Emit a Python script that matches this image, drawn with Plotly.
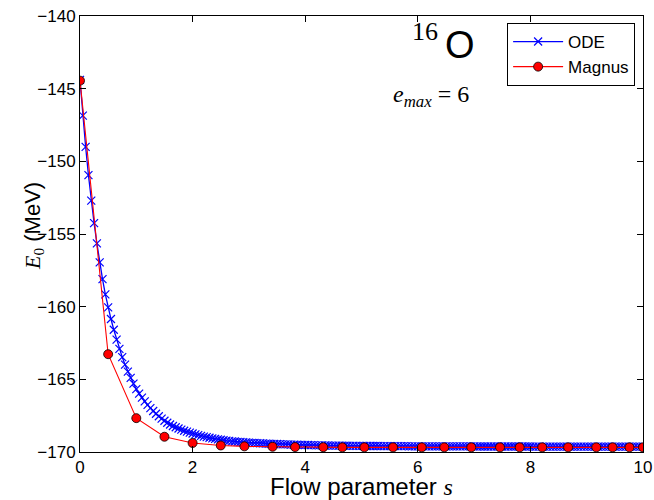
import plotly.graph_objects as go

# ODE flow (blue x markers), sampled every 0.05 in s
ode_s = [
    0.00, 0.05, 0.10, 0.15, 0.20, 0.25, 0.30, 0.35, 0.40, 0.45,
    0.50, 0.55, 0.60, 0.65, 0.70, 0.75, 0.80, 0.85, 0.90, 0.95,
    1.00, 1.05, 1.10, 1.15, 1.20, 1.25, 1.30, 1.35, 1.40, 1.45,
    1.50, 1.55, 1.60, 1.65, 1.70, 1.75, 1.80, 1.85, 1.90, 1.95,
    2.00, 2.05, 2.10, 2.15, 2.20, 2.25, 2.30, 2.35, 2.40, 2.45,
    2.50, 2.55, 2.60, 2.65, 2.70, 2.75, 2.80, 2.85, 2.90, 2.95,
    3.00, 3.05, 3.10, 3.15, 3.20, 3.25, 3.30, 3.35, 3.40, 3.45,
    3.50, 3.55, 3.60, 3.65, 3.70, 3.75, 3.80, 3.85, 3.90, 3.95,
    4.00, 4.05, 4.10, 4.15, 4.20, 4.25, 4.30, 4.35, 4.40, 4.45,
    4.50, 4.55, 4.60, 4.65, 4.70, 4.75, 4.80, 4.85, 4.90, 4.95,
    5.00, 5.05, 5.10, 5.15, 5.20, 5.25, 5.30, 5.35, 5.40, 5.45,
    5.50, 5.55, 5.60, 5.65, 5.70, 5.75, 5.80, 5.85, 5.90, 5.95,
    6.00, 6.05, 6.10, 6.15, 6.20, 6.25, 6.30, 6.35, 6.40, 6.45,
    6.50, 6.55, 6.60, 6.65, 6.70, 6.75, 6.80, 6.85, 6.90, 6.95,
    7.00, 7.05, 7.10, 7.15, 7.20, 7.25, 7.30, 7.35, 7.40, 7.45,
    7.50, 7.55, 7.60, 7.65, 7.70, 7.75, 7.80, 7.85, 7.90, 7.95,
    8.00, 8.05, 8.10, 8.15, 8.20, 8.25, 8.30, 8.35, 8.40, 8.45,
    8.50, 8.55, 8.60, 8.65, 8.70, 8.75, 8.80, 8.85, 8.90, 8.95,
    9.00, 9.05, 9.10, 9.15, 9.20, 9.25, 9.30, 9.35, 9.40, 9.45,
    9.50, 9.55, 9.60, 9.65, 9.70, 9.75, 9.80, 9.85, 9.90, 9.95,
    10.00,
]
ode_E = [
    -144.40, -146.85, -149.00, -150.95, -152.70, -154.25, -155.65, -156.95, -158.10, -159.15,
    -160.05, -160.85, -161.59, -162.27, -162.90, -163.47, -163.99, -164.47, -164.90, -165.30,
    -165.67, -165.98, -166.26, -166.52, -166.76, -166.98, -167.18, -167.37, -167.54, -167.70,
    -167.85, -167.99, -168.11, -168.21, -168.30, -168.38, -168.46, -168.54, -168.60, -168.67,
    -168.73, -168.79, -168.84, -168.89, -168.94, -168.98, -169.02, -169.06, -169.10, -169.13,
    -169.16, -169.19, -169.22, -169.24, -169.27, -169.28, -169.30, -169.31, -169.33, -169.34,
    -169.35, -169.37, -169.38, -169.39, -169.40, -169.41, -169.42, -169.43, -169.44, -169.45,
    -169.45, -169.46, -169.47, -169.48, -169.48, -169.49, -169.50, -169.50, -169.51, -169.51,
    -169.52, -169.52, -169.53, -169.53, -169.54, -169.54, -169.54, -169.55, -169.55, -169.56,
    -169.56, -169.56, -169.56, -169.57, -169.57, -169.57, -169.58, -169.58, -169.58, -169.58,
    -169.58, -169.59, -169.59, -169.59, -169.59, -169.59, -169.59, -169.60, -169.60, -169.60,
    -169.60, -169.60, -169.60, -169.60, -169.60, -169.60, -169.60, -169.61, -169.61, -169.61,
    -169.61, -169.61, -169.61, -169.61, -169.61, -169.61, -169.61, -169.61, -169.61, -169.61,
    -169.61, -169.61, -169.61, -169.61, -169.61, -169.61, -169.61, -169.61, -169.61, -169.61,
    -169.61, -169.62, -169.62, -169.62, -169.62, -169.62, -169.62, -169.62, -169.62, -169.62,
    -169.62, -169.62, -169.62, -169.62, -169.62, -169.62, -169.62, -169.62, -169.62, -169.62,
    -169.62, -169.63, -169.63, -169.63, -169.63, -169.63, -169.63, -169.63, -169.63, -169.63,
    -169.63, -169.63, -169.63, -169.63, -169.63, -169.63, -169.63, -169.63, -169.63, -169.63,
    -169.63, -169.63, -169.63, -169.63, -169.63, -169.63, -169.63, -169.63, -169.63, -169.63,
    -169.63, -169.63, -169.63, -169.63, -169.63, -169.63, -169.63, -169.63, -169.63, -169.63,
    -169.63,
]

# Magnus (red circles), adaptive steps
magnus_s = [0.0, 0.5, 1.0, 1.5, 2.0, 2.5, 2.92, 3.42, 3.82, 4.32, 4.66, 5.05,
            5.56, 6.07, 6.47, 6.95, 7.46, 7.81, 8.21, 8.67, 9.17, 9.46, 9.76, 10.0]
magnus_E = [-144.45, -163.27, -167.67, -168.95, -169.38, -169.55, -169.61, -169.64,
            -169.66, -169.67, -169.68, -169.68, -169.68, -169.68, -169.68, -169.68,
            -169.68, -169.68, -169.68, -169.68, -169.68, -169.68, -169.68, -169.68]

x_ticks = [0, 2, 4, 6, 8, 10]
y_ticks = [-170, -165, -160, -155, -150, -145, -140]

SANS = "Liberation Sans, Arial, sans-serif"
SERIF = "Liberation Serif, Times New Roman, serif"

fig = go.Figure()
fig.add_trace(go.Scatter(
    x=ode_s, y=ode_E, mode="lines+markers", name="ODE",
    line=dict(color="#0000ff", width=1.3),
    marker=dict(symbol="x-thin", size=8, color="#0000ff",
                line=dict(width=1.2, color="#0000ff")),
))
fig.add_trace(go.Scatter(
    x=magnus_s, y=magnus_E, mode="lines+markers", name="Magnus",
    line=dict(color="#ff0000", width=1.1),
    marker=dict(symbol="circle", size=9, color="#ff0000",
                line=dict(width=0.8, color="#000000")),
))

axis_common = dict(
    showline=True, linecolor="black", linewidth=1, mirror="ticks",
    ticks="inside", ticklen=6, tickwidth=1, tickcolor="black",
    showgrid=False, zeroline=False, automargin=False,
    tickfont=dict(family=SANS, size=17, color="black"),
)

fig.update_xaxes(range=[0, 10], tickvals=x_ticks,
                 ticktext=[str(v) for v in x_ticks], **axis_common)
fig.update_yaxes(range=[-170, -140], tickvals=y_ticks, **axis_common)

# axis titles
fig.add_annotation(xref="paper", yref="paper", x=0.5, y=-0.078,
                   text="Flow parameter <span style='font-family:Liberation Serif'><i>s</i></span>",
                   showarrow=False, font=dict(family=SANS, size=24, color="black"),
                   xanchor="center", yanchor="middle")
fig.add_annotation(xref="paper", yref="paper", x=-0.082, y=0.518, textangle=-90,
                   text="<span style='font-family:Liberation Serif'><i>E</i><sub>0</sub></span> (MeV)",
                   showarrow=False, font=dict(family=SANS, size=22, color="black"),
                   xanchor="center", yanchor="middle")

# in-plot labels
fig.add_annotation(xref="paper", yref="paper", x=0.612, y=0.965, text="16",
                   showarrow=False, font=dict(family=SERIF, size=26, color="black"),
                   xanchor="center", yanchor="middle")
fig.add_annotation(xref="paper", yref="paper", x=0.675, y=0.934, text="O",
                   showarrow=False, font=dict(family=SANS, size=38, color="black"),
                   xanchor="center", yanchor="middle")
fig.add_annotation(xref="paper", yref="paper", x=0.624, y=0.817,
                   text="<i>e</i><sub><i>max</i></sub> = 6",
                   showarrow=False, font=dict(family=SERIF, size=24, color="black"),
                   xanchor="center", yanchor="middle")

fig.update_layout(
    width=654, height=500,
    margin=dict(l=80, r=11, t=16, b=48),
    paper_bgcolor="white", plot_bgcolor="white",
    font=dict(family=SANS, color="black"),
    legend=dict(x=0.986, y=0.984, xanchor="right", yanchor="top",
                bgcolor="white", bordercolor="black", borderwidth=1,
                itemwidth=50,
                font=dict(family=SANS, size=17, color="black")),
)

fig.write_html("out.html", config={"displayModeBar": False},
               post_script="document.body.style.margin='0';document.body.style.overflow='hidden';")
